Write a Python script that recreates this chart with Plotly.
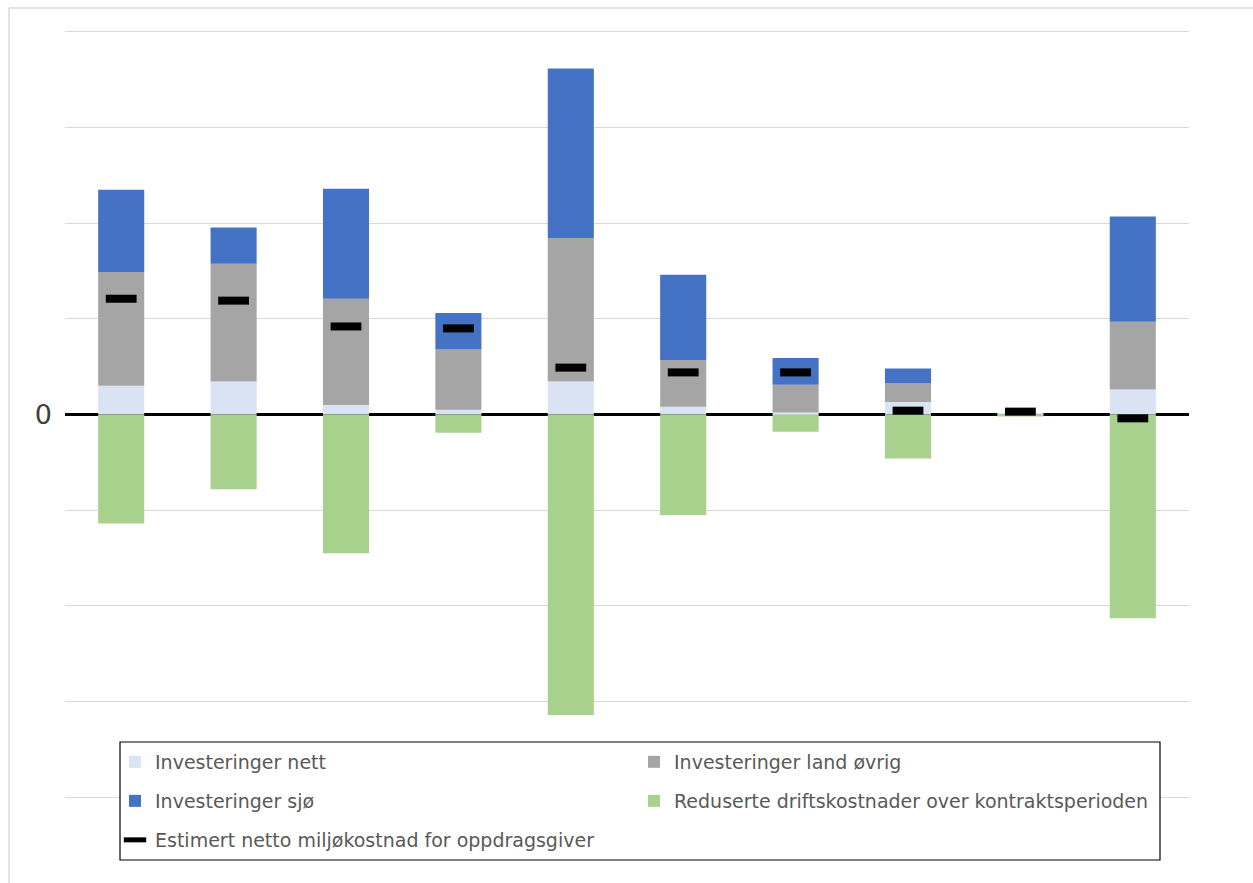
import plotly.graph_objects as go

categories = ["1", "2", "3", "4", "5", "6", "7", "8", "9", "10"]
inv_nett = [0.30, 0.345, 0.10, 0.05, 0.345, 0.08, 0.02, 0.13, 0.01, 0.26]
inv_land = [1.19, 1.23, 1.11, 0.63, 1.50, 0.49, 0.29, 0.20, 0.0, 0.71]
inv_sjo = [0.86, 0.38, 1.15, 0.38, 1.77, 0.89, 0.28, 0.15, 0.0, 1.10]
red_drift = [-1.14, -0.78, -1.45, -0.19, -3.14, -1.05, -0.18, -0.46, -0.02, -2.13]
netto = [1.21, 1.19, 0.92, 0.90, 0.49, 0.44, 0.44, 0.04, 0.03, -0.04]

tick_vals = [-4, -3, -2, -1, 0, 1, 2, 3, 4]
tick_text = ["", "", "", "", "0", "", "", "", ""]

names = [
    "Investeringer nett",
    "Investeringer land øvrig",
    "Investeringer sjø",
    "Reduserte driftskostnader over kontraktsperioden",
    "Estimert netto miljøkostnad for oppdragsgiver",
]
colors = ["#DAE3F3", "#A5A5A5", "#4472C4", "#A9D18E", "#000000"]

fig = go.Figure()
series = [inv_nett, inv_land, inv_sjo, red_drift]
legends = ["legend", "legend", "legend2", "legend2"]
for s, n, c, lg in zip(series, names[:4], colors[:4], legends):
    fig.add_trace(go.Bar(x=categories, y=s, name=n, marker=dict(color=c, line=dict(width=0)),
                         legend=lg))
fig.add_trace(go.Scatter(x=categories, y=netto, name=names[4], mode="markers",
                         marker=dict(symbol="line-ew", size=22, color="black",
                                     line=dict(width=8, color="black")),
                         legend="legend3"))

W, H = 1253, 883
L, R, T, B = 65, 64, 27, 81
pw, ph = W - L - R, H - T - B

def px_x(p):
    return (p - L) / pw

def px_y(p):
    return (H - B - p) / ph

leg_font = dict(family="DejaVu Sans", size=19, color="#595959")
leg_common = dict(orientation="h", xanchor="left", yanchor="middle", entrywidth=474,
                  font=leg_font, bgcolor="rgba(0,0,0,0)", borderwidth=0,
                  itemclick=False, itemdoubleclick=False)

fig.update_layout(
    width=W, height=H,
    margin=dict(l=L, r=R, t=T, b=B, autoexpand=False),
    barmode="relative",
    bargap=0.59,
    plot_bgcolor="white",
    paper_bgcolor="white",
    showlegend=True,
    legend=dict(x=px_x(115), y=px_y(762), itemsizing="constant", **leg_common),
    legend2=dict(x=px_x(115), y=px_y(801), itemsizing="constant", **leg_common),
    legend3=dict(x=px_x(115), y=px_y(840), itemsizing="trace", **leg_common),
    xaxis=dict(range=[-0.5, 9.5], showticklabels=False, showgrid=False, zeroline=False,
               showline=False, ticks=""),
    yaxis=dict(range=[-4.05, 4.05], tickvals=tick_vals, ticktext=tick_text,
               showgrid=True, gridcolor="#D9D9D9", gridwidth=1,
               zeroline=True, zerolinecolor="black", zerolinewidth=2.5,
               showline=False, ticks="", ticklabelstandoff=12,
               tickfont=dict(family="DejaVu Sans", size=27, color="#404040")),
    shapes=[
        dict(type="line", xref="paper", yref="paper",
             x0=px_x(9), x1=px_x(1253), y0=px_y(8), y1=px_y(8),
             line=dict(color="#D9D9D9", width=1.5), layer="below"),
        dict(type="line", xref="paper", yref="paper",
             x0=px_x(9), x1=px_x(9), y0=px_y(8), y1=px_y(883),
             line=dict(color="#D9D9D9", width=1.5), layer="below"),
        dict(type="rect", xref="paper", yref="paper",
             x0=px_x(120), x1=px_x(1160), y0=px_y(860), y1=px_y(742),
             line=dict(color="black", width=1.2), fillcolor="white", layer="above"),
    ],
)

fig.write_html("out.html", config={"displayModeBar": False},
               post_script="document.body.style.margin='0';")
